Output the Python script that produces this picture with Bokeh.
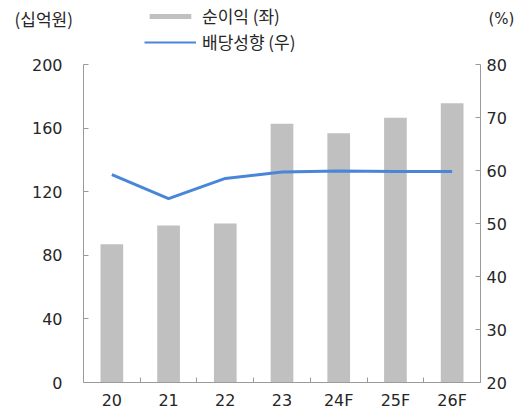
from bokeh.plotting import figure
from bokeh.layouts import column
from bokeh.models import (Range1d, LinearAxis, FixedTicker, Legend, LegendItem,
                          Label, ColumnDataSource)
from bokeh.embed import file_html
from bokeh.resources import INLINE

# Net income (KRW bn, left axis) and payout ratio (%, right axis)
years = ["20", "21", "22", "23", "24F", "25F", "26F"]
net_income = [87, 98.7, 100, 162.7, 156.8, 166.5, 175.7]
payout_ratio = [59.2, 54.7, 58.5, 59.7, 59.9, 59.8, 59.8]
left_ticks = [0, 40, 80, 120, 160, 200]
right_ticks = [20, 30, 40, 50, 60, 70, 80]

NUM_FONT = "DejaVu Sans"
KOR_FONT = "Noto Sans CJK KR"
TEXT = "#262626"
AXIS_GREY = "#9a9a9a"
BAR_GREY = "#c0c0c0"
LINE_BLUE = "#4a86d8"
HEADER_H = 54

xs = [i + 0.5 for i in range(len(years))]
src = ColumnDataSource(dict(x=xs, year=years, ni=net_income, pr=payout_ratio))

# ---- main chart -----------------------------------------------------------
p = figure(width=527, height=417 - HEADER_H, output_backend="svg",
           toolbar_location=None,
           x_range=Range1d(0, len(years)), y_range=Range1d(0, 200),
           min_border_left=83, min_border_right=47, min_border_top=10,
           min_border_bottom=35, outline_line_color=None)
p.frame_align = False
p.extra_y_ranges = {"pct": Range1d(20, 80)}
p.xgrid.visible = False
p.ygrid.visible = False

p.vbar(x="x", top="ni", width=0.4, source=src, fill_color=BAR_GREY,
       line_color=None)
p.line(x="x", y="pr", source=src, y_range_name="pct",
       line_color=LINE_BLUE, line_width=3)


def style_axis(ax):
    ax.axis_line_color = AXIS_GREY
    ax.major_tick_line_color = AXIS_GREY
    ax.minor_tick_line_color = AXIS_GREY
    ax.major_tick_in = 5
    ax.major_tick_out = 0
    ax.minor_tick_in = 0
    ax.minor_tick_out = 0
    ax.major_label_text_font = NUM_FONT
    ax.major_label_text_font_size = "16px"
    ax.major_label_text_color = TEXT


# bottom axis: labels at category centres, ticks on the boundaries
xa = p.xaxis[0]
style_axis(xa)
xa.ticker = FixedTicker(ticks=xs, minor_ticks=list(range(1, len(years))))
xa.major_label_overrides = {x: y for x, y in zip(xs, years)}
xa.major_tick_in = 0
xa.minor_tick_in = 5
xa.major_label_standoff = 8

ya = p.yaxis[0]
style_axis(ya)
ya.ticker = FixedTicker(ticks=left_ticks)
ya.major_label_standoff = 21

ra = LinearAxis(y_range_name="pct", ticker=FixedTicker(ticks=right_ticks))
style_axis(ra)
ra.major_label_standoff = 6
p.add_layout(ra, "right")

# ---- header: unit labels and legend ---------------------------------------
h = figure(width=527, height=HEADER_H, output_backend="svg",
           toolbar_location=None, x_axis_type=None, y_axis_type=None,
           x_range=Range1d(0, 1), y_range=Range1d(0, 1),
           min_border=0, outline_line_color=None)
h.frame_align = False
h.xgrid.visible = False
h.ygrid.visible = False

# key glyphs only; their single point lies outside the header's ranges
key_src = ColumnDataSource(dict(x=[-5], top=[-5], y=[-5]))
bar_key = h.vbar(x="x", top="top", width=0.4, source=key_src,
                 fill_color=BAR_GREY, line_color=None)
line_key = h.line(x="x", y="y", source=key_src, line_color=LINE_BLUE,
                  line_width=2)

legend = Legend(items=[LegendItem(label="순이익 (좌)", renderers=[bar_key]),
                       LegendItem(label="배당성향 (우)", renderers=[line_key])],
                location=(144, 0), orientation="vertical",
                glyph_width=52, glyph_height=6, label_height=20,
                label_standoff=6, spacing=1, padding=0, margin=0,
                border_line_color=None, background_fill_alpha=0,
                label_text_font=KOR_FONT, label_text_font_size="17px",
                label_text_color=TEXT)
h.add_layout(legend, "center")

h.add_layout(Label(x=14, y=HEADER_H - 18, x_units="screen", y_units="screen",
                   text="(십억원)", text_font=KOR_FONT, text_font_size="17px",
                   text_color=TEXT, text_baseline="middle"))
h.add_layout(Label(x=488, y=HEADER_H - 18, x_units="screen", y_units="screen",
                   text="(%)", text_font=NUM_FONT, text_font_size="15px",
                   text_color=TEXT, text_baseline="middle"))

open("out.html", "w").write(file_html(column(h, p, spacing=0), INLINE))
